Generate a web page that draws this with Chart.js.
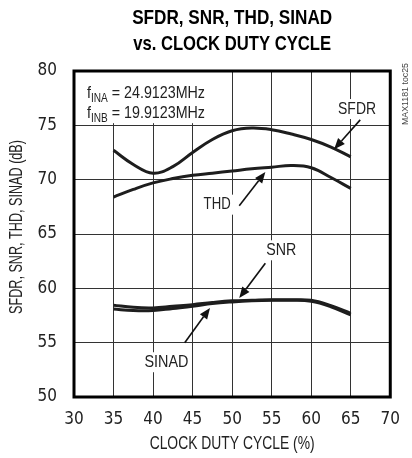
<!DOCTYPE html>
<html>
<head>
<meta charset="utf-8">
<script src="https://cdn.jsdelivr.net/npm/chart.js@4.4.1/dist/chart.umd.min.js"></script>
<style>
  html, body { margin: 0; padding: 0; background: #fff; }
  #wrap { width: 412px; height: 458px; }
</style>
</head>
<body>
<div id="wrap"><canvas id="myChart" width="412" height="458"></canvas></div>
<script>
// data
var dutyCycle = [35, 37.5, 40, 42.5, 45, 47.5, 50, 52.5, 55, 57.5, 60, 62.5, 65];
var sfdr  = [72.7, 71.4, 70.6, 71.2, 72.5, 73.7, 74.5, 74.75, 74.6, 74.2, 73.7, 73.0, 72.1];
var thd   = [68.4, 69.1, 69.7, 70.1, 70.4, 70.6, 70.8, 71.0, 71.15, 71.3, 71.1, 70.2, 69.2];
var snr   = [58.45, 58.25, 58.2, 58.35, 58.5, 58.7, 58.85, 58.9, 58.95, 58.95, 58.9, 58.4, 57.7];
var sinad = [58.1, 57.95, 57.95, 58.15, 58.35, 58.6, 58.75, 58.85, 58.9, 58.9, 58.8, 58.3, 57.55];
var xTicks = [30, 35, 40, 45, 50, 55, 60, 65, 70];
var yTicks = [50, 55, 60, 65, 70, 75, 80];

var TICKFONT = '"DejaVu Sans Condensed", "Liberation Sans", sans-serif';
var FONT = '"Liberation Sans", Arial, sans-serif';

function pts(ys) {
  return dutyCycle.map(function (x, i) { return { x: x, y: ys[i] }; });
}

function curve(ys) {
  return {
    data: pts(ys),
    borderColor: '#1e1e1e',
    borderWidth: 3,
    pointRadius: 0,
    tension: 0.4,
    fill: false
  };
}

// callout labels with arrows (data coords)
var callouts = [
  { text: 'SFDR',  w: 38, at: [65.8, 76.5], from: [66.2, 75.5], to: [62.9, 72.8] },
  { text: 'THD',   w: 27, at: [48.1, 67.7], from: [50.9, 67.6], to: [54.2, 70.7] },
  { text: 'SNR',   w: 30, at: [56.2, 63.5], from: [54.2, 62.3], to: [50.9, 59.1] },
  { text: 'SINAD', w: 44, at: [41.7, 53.2], from: [44.0, 55.0], to: [47.2, 58.2] }
];

function arrow(ctx, x1, y1, x2, y2) {
  var a = Math.atan2(y2 - y1, x2 - x1);
  var len = 11, w = 4.5;
  ctx.beginPath();
  ctx.moveTo(x1, y1);
  ctx.lineTo(x2 - Math.cos(a) * len, y2 - Math.sin(a) * len);
  ctx.lineWidth = 1.6;
  ctx.strokeStyle = '#111';
  ctx.stroke();
  ctx.beginPath();
  ctx.moveTo(x2, y2);
  ctx.lineTo(x2 - Math.cos(a) * len - Math.sin(a) * w, y2 - Math.sin(a) * len + Math.cos(a) * w);
  ctx.lineTo(x2 - Math.cos(a) * len + Math.sin(a) * w, y2 - Math.sin(a) * len - Math.cos(a) * w);
  ctx.closePath();
  ctx.fillStyle = '#111';
  ctx.fill();
}

var notes = {
  id: 'notes',
  beforeDatasetsDraw: function (chart) {
    var ctx = chart.ctx, x = chart.scales.x, y = chart.scales.y;
    ctx.save();
    // box for the input frequencies
    ctx.fillStyle = '#fff';
    ctx.fillRect(x.left, y.top, x.getPixelForValue(46.6) - x.left, y.getPixelForValue(75.2) - y.top);
    ctx.fillStyle = '#222';
    ctx.textBaseline = 'alphabetic';
    ctx.textAlign = 'left';
    var lines = [['INA', '24.9123MHz'], ['INB', '19.9123MHz']];
    lines.forEach(function (l, i) {
      ctx.save();
      ctx.translate(x.left + 13, y.top + 27 + i * 20);
      ctx.scale(0.84, 1);
      ctx.font = '17px ' + FONT;
      ctx.fillText('f', 0, 0);
      var w = ctx.measureText('f').width;
      ctx.font = '12px ' + FONT;
      ctx.fillText(l[0], w, 4);
      var w2 = ctx.measureText(l[0]).width;
      ctx.font = '17px ' + FONT;
      ctx.fillText(' = ' + l[1], w + w2, 0);
      ctx.restore();
    });
    // callout labels
    ctx.font = '17px ' + FONT;
    ctx.textAlign = 'center';
    ctx.textBaseline = 'middle';
    callouts.forEach(function (c) {
      var cx = x.getPixelForValue(c.at[0]), cy = y.getPixelForValue(c.at[1]);
      ctx.fillStyle = '#fff';
      ctx.fillRect(cx - c.w / 2 - 3, cy - 10, c.w + 6, 20);
      ctx.fillStyle = '#222';
      ctx.fillText(c.text, cx, cy, c.w);
    });
    ctx.restore();
  },
  afterDraw: function (chart) {
    var ctx = chart.ctx, x = chart.scales.x, y = chart.scales.y, a = chart.chartArea;
    ctx.save();
    callouts.forEach(function (c) {
      arrow(ctx, x.getPixelForValue(c.from[0]), y.getPixelForValue(c.from[1]),
        x.getPixelForValue(c.to[0]), y.getPixelForValue(c.to[1]));
    });
    // frame
    ctx.lineWidth = 3;
    ctx.strokeStyle = '#000';
    ctx.strokeRect(a.left, a.top, a.right - a.left, a.bottom - a.top);
    // titles
    ctx.fillStyle = '#000';
    ctx.textAlign = 'center';
    ctx.textBaseline = 'middle';
    ctx.font = 'bold 21px ' + FONT;
    var mid = (a.left + a.right) / 2;
    ctx.fillText('SFDR, SNR, THD, SINAD', mid, 18, 200);
    ctx.fillText('vs. CLOCK DUTY CYCLE', mid, 44, 198);
    ctx.fillStyle = '#222';
    ctx.font = '18px ' + FONT;
    ctx.fillText('CLOCK DUTY CYCLE (%)', mid, 444, 165);
    ctx.save();
    ctx.translate(17, 227);
    ctx.rotate(-Math.PI / 2);
    ctx.fillText('SFDR, SNR, THD, SINAD (dB)', 0, 0, 174);
    ctx.restore();
    ctx.save();
    ctx.translate(406, 94);
    ctx.rotate(-Math.PI / 2);
    ctx.font = '9px ' + FONT;
    ctx.fillStyle = '#444';
    ctx.fillText('MAX1181 toc25', 0, 0, 62);
    ctx.restore();
    ctx.restore();
  }
};

var ctx = document.getElementById('myChart').getContext('2d');
var myChart = new Chart(ctx, {
  type: 'line',
  data: {
    datasets: [curve(sfdr), curve(thd), curve(snr), curve(sinad)]
  },
  options: {
    responsive: false,
    animation: false,
    layout: { padding: { top: 71, right: 0, left: 0, bottom: 0 } },
    plugins: {
      legend: { display: false },
      title: { display: false },
      tooltip: { enabled: false }
    },
    scales: {
      x: {
        type: 'linear',
        min: 30,
        max: 70,
        afterBuildTicks: function (s) { s.ticks = xTicks.map(function (v) { return { value: v }; }); },
        afterFit: function (s) { s.height = 61; },
        grid: { color: '#333', lineWidth: 1, drawTicks: false },
        border: { display: false },
        ticks: { color: '#222', padding: 12, font: { family: TICKFONT, size: 17 } }
      },
      y: {
        min: 50,
        max: 80,
        afterBuildTicks: function (s) { s.ticks = yTicks.map(function (v) { return { value: v }; }); },
        afterFit: function (s) { s.width = 74; },
        grid: { color: '#333', lineWidth: 1, drawTicks: false },
        border: { display: false },
        ticks: { color: '#222', padding: 17, font: { family: TICKFONT, size: 17 } }
      }
    }
  },
  plugins: [notes]
});
</script>
</body>
</html>
